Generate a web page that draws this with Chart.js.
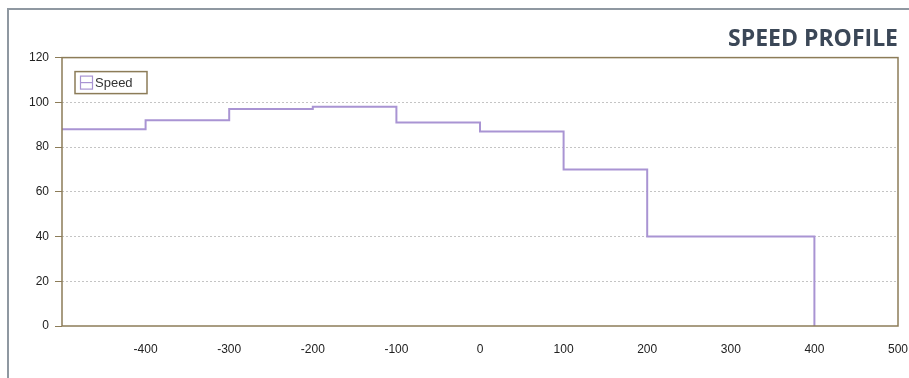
<!DOCTYPE html>
<html>
<head>
    <title>Speed Profile</title>
    <script src="https://cdn.jsdelivr.net/npm/chart.js"></script>
    <style>
        html, body { margin: 0; padding: 0; background: #fff; width: 909px; height: 378px; overflow: hidden; }
        .frame { position: absolute; left: 7px; top: 8px; width: 910px; height: 380px;
                 border-top: 2px solid #8f98a1; border-left: 2px solid #8f98a1; }
        .wrap { position: absolute; left: 0; top: 0; width: 925px; height: 378px; }
    </style>
</head>
<body>
<div class="frame"></div>
<div class="wrap">
    <canvas id="speedChart" width="925" height="378"></canvas>
</div>
<script>
    // distance (m) where each speed step starts, and the speed held from there
    const distance = [-500, -400, -300, -200, -100, 0, 100, 200, 400];
    const speed = [88, 92, 97, 98, 91, 87, 70, 40, 0];
    const yTicks = [0, 20, 40, 60, 80, 100, 120];
    const xTicks = [-400, -300, -200, -100, 0, 100, 200, 300, 400, 500];

    const frameColor = '#8c7c58';
    const lineColor = '#a994d3';

    // plot border + boxed legend in the top left corner
    const boxPlugin = {
        id: 'boxPlugin',
        afterDraw(chart) {
            const ctx = chart.ctx;
            const a = chart.chartArea;
            ctx.save();
            ctx.strokeStyle = frameColor;
            ctx.lineWidth = 1.5;
            ctx.strokeRect(a.left, a.top, a.right - a.left, a.bottom - a.top);

            // legend
            let x = a.left + 13, y = a.top + 14, w = 72, h = 22;
            ctx.fillStyle = '#fff';
            ctx.fillRect(x, y, w, h);
            ctx.strokeStyle = frameColor;
            ctx.lineWidth = 1.5;
            ctx.strokeRect(x, y, w, h);
            ctx.strokeStyle = lineColor;
            ctx.lineWidth = 1.2;
            ctx.strokeRect(x + 5.5, y + 4.5, 12, 13);
            ctx.beginPath();
            ctx.moveTo(x + 5.5, y + 11);
            ctx.lineTo(x + 17.5, y + 11);
            ctx.stroke();
            ctx.fillStyle = '#333';
            ctx.font = '13px "Liberation Sans", Arial, sans-serif';
            ctx.textBaseline = 'middle';
            ctx.fillText(chart.data.datasets[0].label, x + 20, y + h / 2 + 1);
            ctx.restore();
        }
    };

    let ctx = document.getElementById('speedChart').getContext('2d');
    let chart = new Chart(ctx, {
        type: 'line',
        data: {
            datasets: [{
                label: 'Speed',
                data: distance.map((d, i) => ({ x: d, y: speed[i] })),
                borderColor: lineColor,
                borderWidth: 2,
                stepped: true,
                pointRadius: 0,
                fill: false
            }]
        },
        options: {
            responsive: false,
            animation: false,
            layout: { padding: { left: 0, right: 27, top: 0, bottom: 0 } },
            plugins: {
                legend: { display: false },
                tooltip: { enabled: false },
                title: {
                    display: true,
                    text: 'SPEED PROFILE',
                    align: 'end',
                    color: '#3b4757',
                    font: { family: '"Open Sans", "Noto Sans", sans-serif', size: 23, weight: 'bold' },
                    padding: { top: 26, bottom: 4 }
                }
            },
            scales: {
                x: {
                    type: 'linear',
                    min: -500,
                    max: 500,
                    afterBuildTicks: s => { s.ticks = xTicks.map(v => ({ value: v })); },
                    afterFit: s => { s.height = 52; },
                    grid: { display: false },
                    border: { display: false },
                    ticks: {
                        color: '#222',
                        padding: 8,
                        maxRotation: 0,
                        font: { family: '"Liberation Sans", Arial, sans-serif', size: 12 }
                    }
                },
                y: {
                    min: 0,
                    max: 120,
                    afterBuildTicks: s => { s.ticks = yTicks.map(v => ({ value: v })); },
                    afterFit: s => { s.width = 62; },
                    border: { display: false, dash: [2, 2] },
                    grid: {
                        color: c => (c.tick.value === 0 || c.tick.value === 120) ? 'rgba(0,0,0,0)' : '#c4c4c4',
                        tickColor: frameColor,
                        tickLength: 7,
                        tickBorderDash: [],
                        lineWidth: 1
                    },
                    ticks: {
                        color: '#222',
                        padding: 6,
                        font: { family: '"Liberation Sans", Arial, sans-serif', size: 12 }
                    }
                }
            }
        },
        plugins: [boxPlugin]
    });
</script>
</body>
</html>
